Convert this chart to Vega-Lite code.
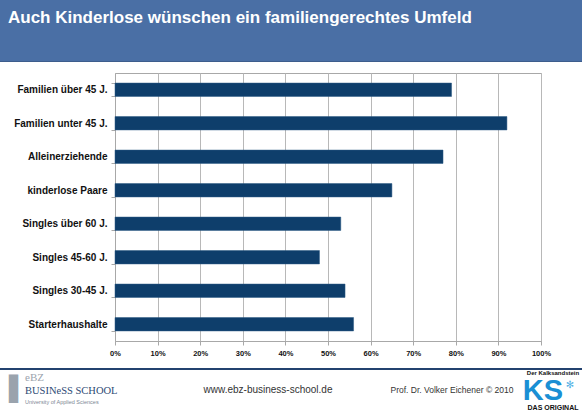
{
  "$schema": "https://vega.github.io/schema/vega-lite/v6.json",
  "padding": 0,
  "background": "white",
  "config": {"view": {"stroke": null}},
  "spacing": 0,
  "bounds": "full",
  "vconcat": [
    {
      "width": 582, "height": 61,
      "view": {"fill": "#4a6fa5", "stroke": null},
      "data": {"values": [{"t": "Auch Kinderlose wünschen ein familiengerechtes Umfeld"}]},
      "mark": {"type": "text", "align": "left", "baseline": "alphabetic", "dx": -283, "dy": -8, "font": "Liberation Sans, Arial", "fontWeight": "bold", "fontSize": 17, "color": "white"},
      "encoding": {"text": {"field": "t"}}
    },
    {
      "width": 582, "height": 1,
      "view": {"fill": "#3d5d8c", "stroke": null},
      "data": {"values": [{}]},
      "mark": {"type": "text", "fontSize": 0}, "encoding": {"text": {"value": ""}}
    },
    {
      "width": 582, "height": 5,
      "data": {"values": [{}]},
      "mark": {"type": "text", "fontSize": 0}, "encoding": {"text": {"value": ""}}
    },
    {
      "bounds": "flush",
      "spacing": 0,
      "hconcat": [
        {
          "width": 115, "height": 268,
          "data": {"values": [{}]},
          "mark": {"type": "text", "fontSize": 0}, "encoding": {"text": {"value": ""}}
        },
        {
          "width": 426, "height": 268,
          "view": {"stroke": "#a8a8a8", "strokeWidth": 1},
          "data": {"values": [
            {"gruppe": "Familien über 45 J.", "anteil": 0.79},
            {"gruppe": "Familien unter 45 J.", "anteil": 0.92},
            {"gruppe": "Alleinerziehende", "anteil": 0.77},
            {"gruppe": "kinderlose Paare", "anteil": 0.65},
            {"gruppe": "Singles über 60 J.", "anteil": 0.53},
            {"gruppe": "Singles 45-60 J.", "anteil": 0.48},
            {"gruppe": "Singles 30-45 J.", "anteil": 0.54},
            {"gruppe": "Starterhaushalte", "anteil": 0.56}
          ]},
          "mark": {"type": "bar", "color": "#0e3e6b", "stroke": "#2c5a85", "strokeWidth": 0.5},
          "encoding": {
            "y": {"field": "gruppe", "type": "nominal", "sort": null,
                  "scale": {"paddingInner": 0.6, "paddingOuter": 0.3},
                  "axis": {"title": null, "tickBand": "extent", "domainColor": "#a8a8a8", "tickColor": "#a8a8a8", "tickSize": 4, "labelPadding": 4,
                           "labelFont": "Liberation Sans, Arial", "labelFontWeight": "bold", "labelFontSize": 10, "labelColor": "#111", "labelLimit": 200}},
            "x": {"field": "anteil", "type": "quantitative",
                  "scale": {"domain": [0, 1], "nice": false},
                  "axis": {"title": null, "format": ".0%", "tickCount": 10, "grid": true, "gridColor": "#b8b8b8", "domainColor": "#a8a8a8", "tickColor": "#a8a8a8", "tickSize": 4, "labelPadding": 4,
                           "labelFont": "Liberation Sans, Arial", "labelFontWeight": "bold", "labelFontSize": 7.5, "labelColor": "#111", "labelFlush": false}}
          }
        }
      ]
    },
    {
      "width": 582, "height": 11,
      "data": {"values": [{}]},
      "mark": {"type": "text", "fontSize": 0}, "encoding": {"text": {"value": ""}}
    },
    {
      "width": 582, "height": 2,
      "view": {"fill": "#23426f", "stroke": null},
      "data": {"values": [{}]},
      "mark": {"type": "text", "fontSize": 0}, "encoding": {"text": {"value": ""}}
    },
    {
      "bounds": "flush",
      "spacing": 0,
      "hconcat": [
        {
          "width": 140, "height": 42,
          "data": {"values": [{"a": "eBZ", "b": "BUSINeSS SCHOOL", "c": "University of Applied Sciences", "d": "▌"}]},
          "layer": [
            {"mark": {"type": "text", "align": "left", "baseline": "middle", "dx": -61, "dy": -2, "fontSize": 24, "color": "#9aa3ad", "font": "DejaVu Sans"}, "encoding": {"text": {"field": "d"}}},
            {"mark": {"type": "text", "align": "left", "baseline": "middle", "dx": -45, "dy": -14, "fontSize": 11, "color": "#9ba3ad", "font": "Liberation Serif"}, "encoding": {"text": {"field": "a"}}},
            {"mark": {"type": "text", "align": "left", "baseline": "middle", "dx": -45, "dy": -1, "fontSize": 10.5, "color": "#2d4a74", "font": "Liberation Serif"}, "encoding": {"text": {"field": "b"}}},
            {"mark": {"type": "text", "align": "left", "baseline": "middle", "dx": -45, "dy": 10, "fontSize": 5.5, "color": "#7d8794", "font": "Liberation Sans"}, "encoding": {"text": {"field": "c"}}}
          ]
        },
        {
          "width": 256, "height": 42,
          "data": {"values": [{"t": "www.ebz-business-school.de"}]},
          "mark": {"type": "text", "baseline": "middle", "dy": -2, "fontSize": 10, "color": "#333", "font": "Liberation Sans"},
          "encoding": {"text": {"field": "t"}}
        },
        {
          "width": 120, "height": 42,
          "data": {"values": [{"t": "Prof. Dr. Volker Eichener © 2010"}]},
          "mark": {"type": "text", "baseline": "middle", "dy": -2, "dx": -4, "fontSize": 8.5, "color": "#333", "font": "Liberation Sans"},
          "encoding": {"text": {"field": "t"}}
        },
        {
          "width": 66, "height": 42,
          "data": {"values": [{"a": "Der Kalksandstein", "b": "KS", "c": "DAS ORIGINAL", "d": "✻"}]},
          "layer": [
            {"mark": {"type": "text", "baseline": "middle", "dx": 4, "dy": -19, "fontSize": 6, "fontWeight": "bold", "color": "#111", "font": "Liberation Sans"}, "encoding": {"text": {"field": "a"}}},
            {"mark": {"type": "text", "baseline": "middle", "dx": -6, "dy": -1, "fontSize": 29, "fontWeight": "bold", "color": "#1a8fd4", "font": "Liberation Sans"}, "encoding": {"text": {"field": "b"}}},
            {"mark": {"type": "text", "baseline": "middle", "dx": 21, "dy": -7, "fontSize": 10, "fontWeight": "bold", "color": "#5ab4e6", "font": "DejaVu Sans"}, "encoding": {"text": {"field": "d"}}},
            {"mark": {"type": "text", "baseline": "middle", "dx": 4, "dy": 16, "fontSize": 7, "fontWeight": "bold", "color": "#111", "font": "Liberation Sans"}, "encoding": {"text": {"field": "c"}}}
          ]
        }
      ]
    }
  ]
}
